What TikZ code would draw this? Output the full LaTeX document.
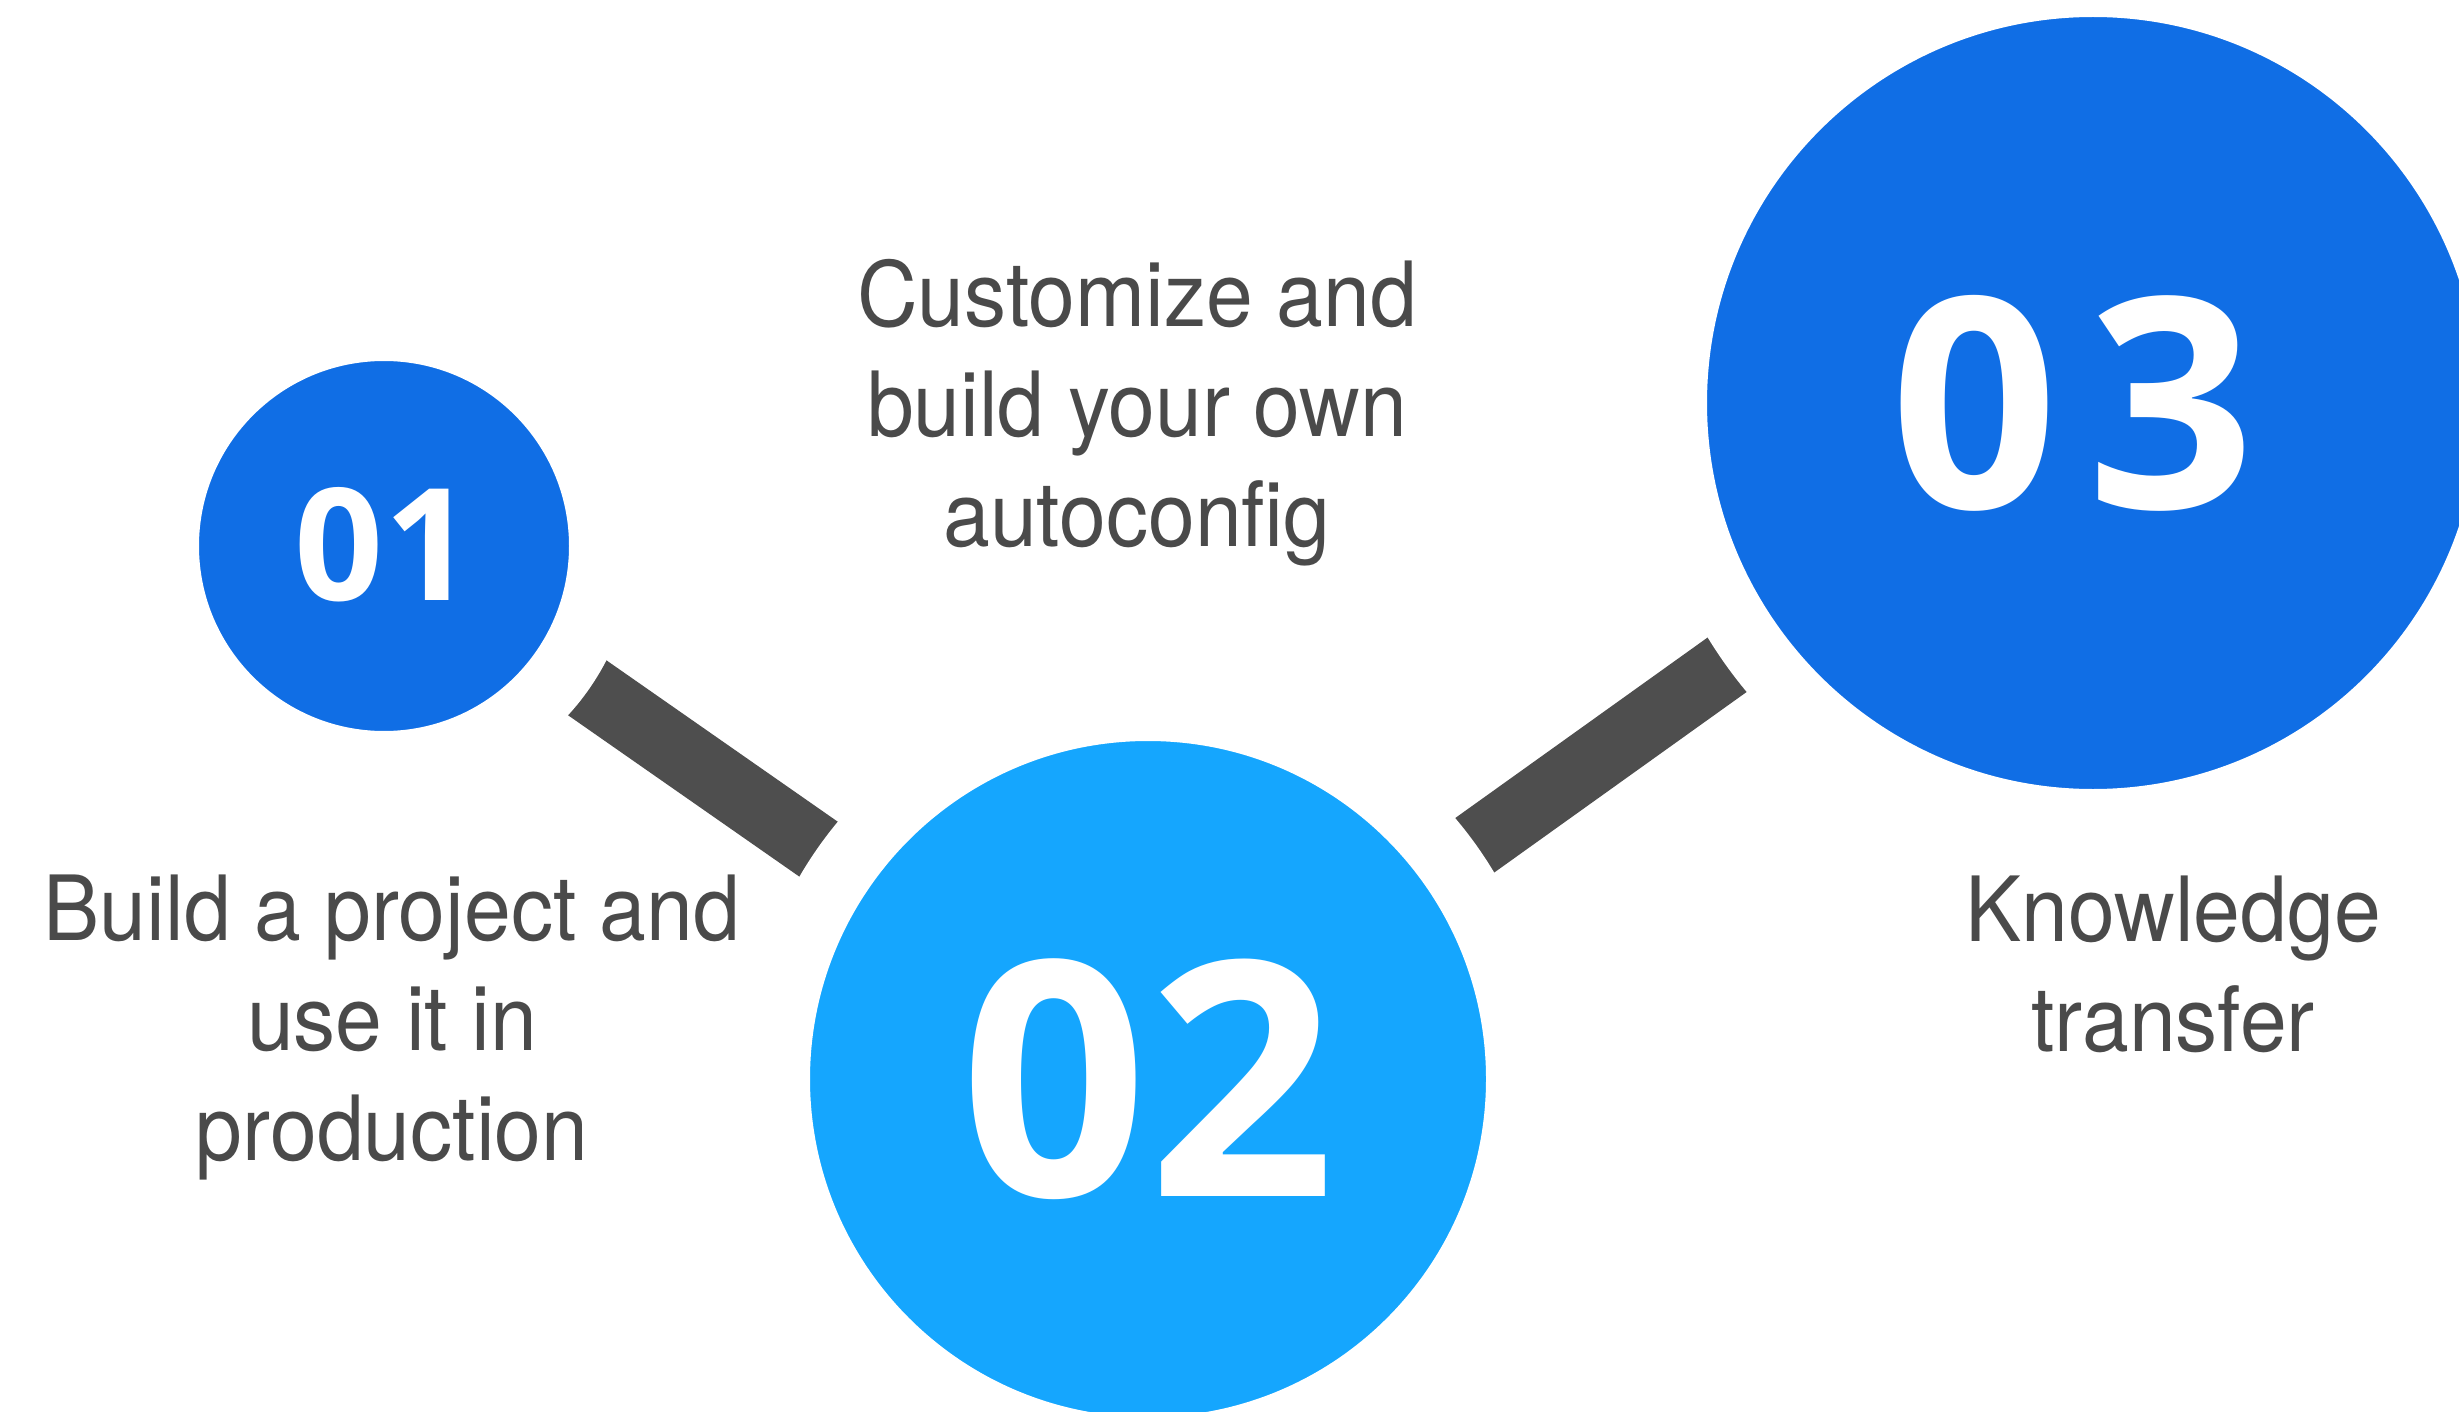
\documentclass[tikz,border=0pt]{standalone}
\usepackage{fontspec}
\usepackage{xcolor}
\usetikzlibrary{backgrounds}
\setmainfont{TeX Gyre Heros}[FakeStretch=0.935]
\newfontfamily\numfont{Open Sans}
\definecolor{stepblue}{HTML}{106EE5}
\definecolor{steplight}{HTML}{15A6FE}
\definecolor{bargray}{HTML}{4E4E4E}
\definecolor{textgray}{HTML}{4A4A4A}

\begin{document}
\begin{tikzpicture}[x=1pt, y=-1pt,
    stepcircle/.style={circle, draw=white, line width=65pt, inner sep=0pt, outer sep=0pt, text=white},
    steptext/.style={align=center, text=textgray, inner sep=0pt, anchor=base, font=\fontsize{90}{110}\selectfont},
    stepbar/.style={bargray, line width=67pt}]
    \useasboundingbox (0,0) rectangle (2459,1412);
    \clip (0,0) rectangle (2459,1412);

    % Circles
    \node[stepcircle, fill=stepblue, minimum size=435pt, font=\numfont\bfseries\fontsize{156}{160}\selectfont] (c1) at (384,546) {\raisebox{4pt}{01}};
    \node[stepcircle, fill=steplight, minimum size=741pt, font=\numfont\bfseries\fontsize{328}{332}\selectfont] (c2) at (1148,1079) {02};
    \node[stepcircle, fill=stepblue, minimum size=837pt, font=\numfont\bfseries\fontsize{294}{300}\selectfont] (c3) at (2093,403) {\kern-40pt 0\kern29pt 3};

    % Bars between the circles
    \begin{scope}[on background layer]
        \draw[stepbar] (c1.center) -- (c2.center);
        \draw[stepbar] (c2.center) -- (c3.center);
    \end{scope}

    % Labels (placed at the baseline of the last line)
    \node[steptext] (t1) at (392,1160) {Build a project and\\use it in\\production};
    \node[steptext] (t2) at (1137,546) {Customize and\\build your own\\autoconfig};
    \node[steptext] (t3) at (2173,1051) {Knowledge\\transfer};

\end{tikzpicture}
\end{document}
